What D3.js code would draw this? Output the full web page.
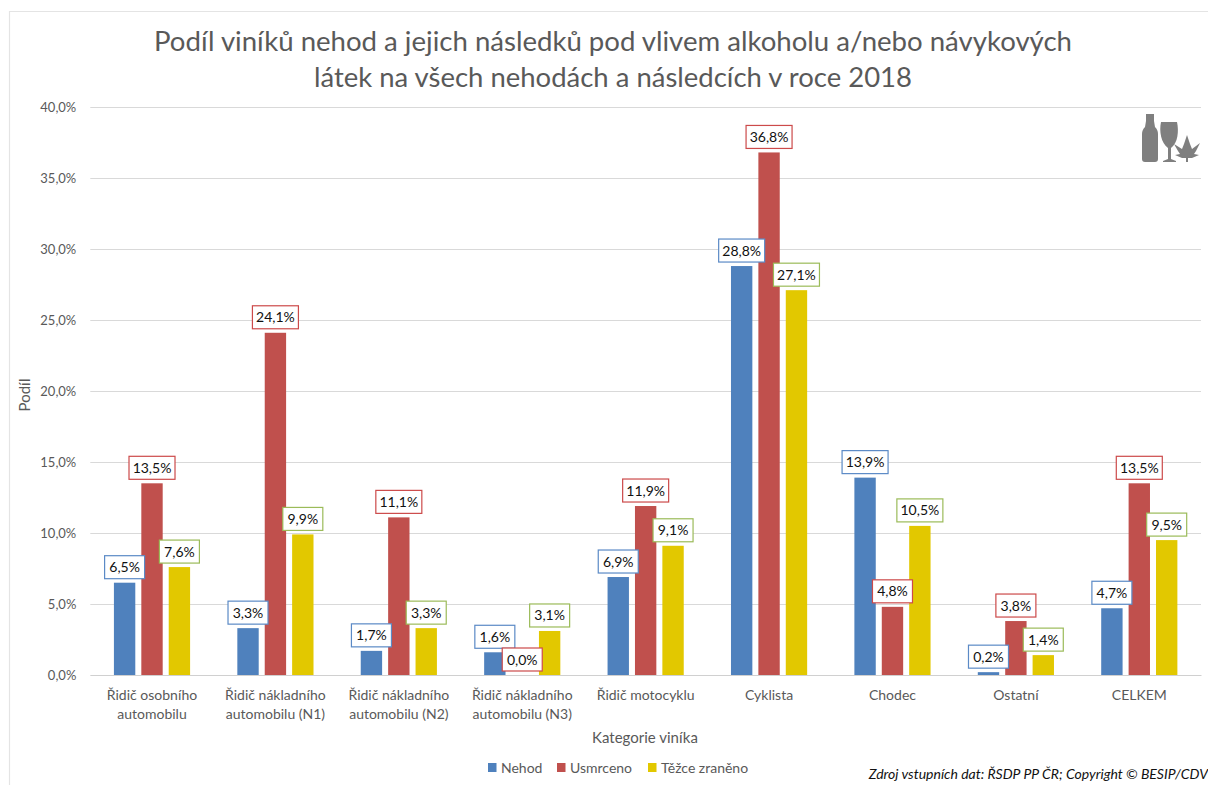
<!DOCTYPE html>
<html lang="cs">
<head>
<meta charset="utf-8">
<script src="https://d3js.org/d3.v7.min.js"></script>
<style>
html,body{margin:0;padding:0;background:#fff;overflow:hidden}
svg{display:block}
text{font-family:Lato,"Open Sans",sans-serif}
</style>
</head>
<body>
<svg id="c" width="1208" height="785"></svg>
<script>
const categories = [
  ["Řidič osobního","automobilu"],
  ["Řidič nákladního","automobilu (N1)"],
  ["Řidič nákladního","automobilu (N2)"],
  ["Řidič nákladního","automobilu (N3)"],
  ["Řidič motocyklu"],
  ["Cyklista"],
  ["Chodec"],
  ["Ostatní"],
  ["CELKEM"]
];
const nehod    = [6.5, 3.3, 1.7, 1.6, 6.9, 28.8, 13.9, 0.2, 4.7];
const usmrceno = [13.5, 24.1, 11.1, 0.0, 11.9, 36.8, 4.8, 3.8, 13.5];
const tezce    = [7.6, 9.9, 3.3, 3.1, 9.1, 27.1, 10.5, 1.4, 9.5];
const seriesNames = ["Nehod","Usmrceno","Těžce zraněno"];
const barColors = ["#4f81bd","#c0504d","#e2c800"];
const labelBorders = ["#5b8ac6","#cc4a4a","#9bbb59"];
const yTicks = [0,5,10,15,20,25,30,35,40];
const titleLines = ["Podíl viníků nehod a jejich následků pod vlivem alkoholu a/nebo návykových","látek na všech nehodách a následcích v roce 2018"];
const seriesValues = [nehod, usmrceno, tezce];

const svg = d3.select("#c");
const M = {l:90.3, r:1201, t:107, b:675};
const fmt = v => v.toFixed(1).replace(".",",") + "%";
const x0 = d3.scaleBand().domain(d3.range(categories.length)).range([M.l, M.r]).padding(0);
const innerW = 27.4*3;
const x1 = d3.scaleBand().domain(d3.range(3)).range([(x0.bandwidth()-innerW)/2,(x0.bandwidth()+innerW)/2]).paddingInner(0.22).paddingOuter(0.11);
const y = d3.scaleLinear().domain([0,40]).range([M.b, M.t]);

// chart frame
svg.append("path").attr("d","M9.5,785V11.5H1208").attr("fill","none").attr("stroke","#e4e4e4").attr("stroke-width",1.2);

// title
svg.append("g").selectAll("text").data(titleLines).join("text")
  .attr("x",613).attr("y",(d,i)=>51+i*36)
  .attr("text-anchor","middle").attr("font-size",27).attr("fill","#595959").text(d=>d)
  .attr("textLength",(d,i)=> i?598:918).attr("lengthAdjust","spacingAndGlyphs");

// y axis with gridlines
const yAxis = d3.axisLeft(y).tickValues(yTicks).tickSize(M.l-M.r).tickPadding(14).tickFormat(fmt);
const gy = svg.append("g").attr("transform",`translate(${M.l},0)`).call(yAxis);
gy.select(".domain").remove();
gy.selectAll(".tick line").attr("stroke","#d9d9d9").attr("stroke-width",1);
gy.selectAll(".tick text").attr("font-size",13).attr("fill","#595959").attr("x",-14).attr("dy","0.34em");

// x axis
const xAxis = d3.axisBottom(x0).tickSize(0).tickFormat("");
const gx = svg.append("g").attr("transform",`translate(0,${M.b})`).call(xAxis);
gx.select(".domain").attr("stroke","#d0d0d0").attr("stroke-width",1);
gx.selectAll(".tick").each(function(d){
  d3.select(this).selectAll("text").remove();
  d3.select(this).append("text").attr("text-anchor","middle").attr("font-size",14).attr("fill","#595959")
    .selectAll("tspan").data(categories[d]).join("tspan")
    .attr("x",0).attr("y",(t,i)=>25+i*18.5).text(t=>t);
});

// bars
seriesValues.forEach((vals,s)=>{
  svg.append("g").selectAll("rect").data(vals).join("rect")
    .attr("x",(d,i)=>x0(i)+x1(s)).attr("width",x1.bandwidth())
    .attr("y",d=>y(d)).attr("height",d=>y(0)-y(d))
    .attr("fill",barColors[s]);
});

// data labels
seriesValues.forEach((vals,s)=>{
  const g = svg.append("g").selectAll("g").data(vals).join("g")
    .attr("transform",(d,i)=>`translate(${x0(i)+x1(s)+x1.bandwidth()/2},${y(d)-4})`);
  g.append("rect").attr("x",d=>d>=10?-23:-20).attr("width",d=>d>=10?46:40).attr("y",-23).attr("height",23)
    .attr("fill","#fff").attr("stroke",labelBorders[s]).attr("stroke-width",1.2);
  g.append("text").attr("text-anchor","middle").attr("y",-6.5).attr("font-size",14).attr("fill","#111").text(fmt);
});

// axis titles
svg.append("text").attr("transform","translate(30,395) rotate(-90)").attr("text-anchor","middle")
  .attr("font-size",15).attr("fill","#595959").text("Podíl");
svg.append("text").attr("x",645).attr("y",743).attr("text-anchor","middle")
  .attr("font-size",15).attr("fill","#595959").text("Kategorie viníka");

// legend
const legendX = [488,557,648];
const lg = svg.append("g").selectAll("g").data(seriesNames).join("g")
  .attr("transform",(d,i)=>`translate(${legendX[i]},763)`);
lg.append("rect").attr("width",8.5).attr("height",9).attr("fill",(d,i)=>barColors[i]);
lg.append("text").attr("x",13).attr("y",10).attr("font-size",14).attr("fill","#595959").text(d=>d);

// source
svg.append("text").attr("x",1208).attr("y",779).attr("text-anchor","end").attr("font-size",14)
  .attr("font-style","italic").attr("fill","#111").text("Zdroj vstupních dat: ŘSDP PP ČR; Copyright © BESIP/CDV");

// icon
const icon = svg.append("g").attr("fill","#7f7f7f");
icon.append("path").attr("d","M1146,114h8v7l1,6c2,2 3,4 3,7v25a3,3 0 0 1 -3,3h-10a3,3 0 0 1 -3,-3v-25c0,-3 1,-5 3,-7l1,-6z");
icon.append("path").attr("d","M1161,122h16c2,9 1,21 -6,26v11l5,2v1h-13v-1l5,-2v-11c-7,-5 -9,-17 -7,-26z");
icon.append("path").attr("d","M1187,135L1190,144L1192,149L1200,143L1196,151L1194,154L1199,155L1192,158L1188,158L1188,162L1186,162L1186,158L1182,158L1175,155L1180,154L1178,151L1174,144L1182,149L1184,144Z");
</script>
</body>
</html>
